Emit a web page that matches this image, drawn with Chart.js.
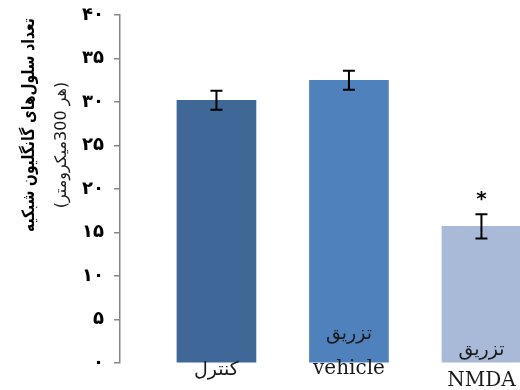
<!DOCTYPE html>
<html>
<head>
<meta charset="utf-8">
<script src="https://cdn.jsdelivr.net/npm/chart.js@4/dist/chart.umd.min.js"></script>
<style>
  html, body { margin: 0; padding: 0; background: #ffffff; overflow: hidden; }
  #wrap { width: 520px; height: 390px; position: relative; }
</style>
</head>
<body>
<div id="wrap"><canvas id="c" width="520" height="390"></canvas></div>
<script>
// Retinal ganglion cell counts per group (mean ± error)
const categories = [['کنترل'], ['تزریق', 'vehicle'], ['تزریق', 'NMDA']];
const cellCounts = [30.2, 32.5, 15.7];
const cellErrors = [1.1, 1.1, 1.4];
const significant = [false, false, true];
const barColors = ['#3F6899', '#4F81BD', '#A9BAD9'];
const yTickValues = [0, 5, 10, 15, 20, 25, 30, 35, 40];
const yTickLabels = ['۰', '۵', '۱۰', '۱۵', '۲۰', '۲۵', '۳۰', '۳۵', '۴۰'];
const yTitle = 'تعداد سلول‌های گانگلیون شبکیه';
const ySubTitle = '(هر 300میکرومتر)';

// Error bars and the significance star
const errorBarPlugin = {
  id: 'errorBars',
  afterDatasetsDraw(chart) {
    const ctx = chart.ctx;
    const xs = chart.scales.x, ys = chart.scales.y;
    ctx.save();
    ctx.strokeStyle = '#000';
    ctx.lineWidth = 2;
    cellCounts.forEach((v, i) => {
      const x = xs.getPixelForValue(i);
      const top = ys.getPixelForValue(v + cellErrors[i]);
      const bot = ys.getPixelForValue(v - cellErrors[i]);
      ctx.beginPath();
      ctx.moveTo(x, top); ctx.lineTo(x, bot);
      ctx.moveTo(x - 6, top); ctx.lineTo(x + 6, top);
      ctx.moveTo(x - 6, bot); ctx.lineTo(x + 6, bot);
      ctx.stroke();
      if (significant[i]) {
        ctx.fillStyle = '#000';
        ctx.font = 'bold 20px "DejaVu Sans"';
        ctx.textAlign = 'center';
        ctx.textBaseline = 'middle';
        ctx.fillText('*', x, top - 14);
      }
    });
    ctx.restore();
  }
};

// Category labels: the first line sits inside the bar, the last one just below it
const labelPlugin = {
  id: 'catLabels',
  afterDatasetsDraw(chart) {
    const ctx = chart.ctx;
    const xs = chart.scales.x;
    const base = chart.chartArea.bottom;
    const offsets = [[7], [-29, 6], [-13, 18]];
    ctx.save();
    ctx.fillStyle = '#1a1a1a';
    ctx.textAlign = 'center';
    ctx.textBaseline = 'middle';
    categories.forEach((lines, i) => {
      const x = xs.getPixelForValue(i);
      lines.forEach((t, j) => {
        const latin = /^[A-Za-z]/.test(t);
        ctx.font = latin ? '20px "DejaVu Serif"' : '19px "DejaVu Sans"';
        ctx.direction = latin ? 'ltr' : 'rtl';
        ctx.fillText(t, x, base + offsets[i][j]);
      });
    });
    ctx.restore();
  }
};

// Rotated y-axis title lines, squeezed along the reading direction to a set length
function drawRotated(ctx, text, font, color, cx, cy, length) {
  ctx.save();
  ctx.fillStyle = color;
  ctx.font = font;
  ctx.textAlign = 'center';
  ctx.textBaseline = 'middle';
  ctx.direction = 'rtl';
  ctx.translate(cx, cy);
  ctx.rotate(-Math.PI / 2);
  const w = ctx.measureText(text).width;
  ctx.scale(Math.min(1, length / w), 1);
  ctx.fillText(text, 0, 0);
  ctx.restore();
}

const titlePlugin = {
  id: 'yTitles',
  afterDraw(chart) {
    const ctx = chart.ctx;
    drawRotated(ctx, yTitle, 'bold 17px "DejaVu Sans"', '#000', 30, 125, 214);
    drawRotated(ctx, ySubTitle, '16px "DejaVu Sans"', '#1a1a1a', 62, 145, 140);
  }
};

new Chart(document.getElementById('c'), {
  type: 'bar',
  data: {
    datasets: [{
      data: cellCounts.map((v, i) => ({ x: i, y: v })),
      backgroundColor: barColors,
      borderWidth: 0,
      barThickness: 79
    }]
  },
  options: {
    responsive: false,
    animation: false,
    layout: { padding: { top: 15, bottom: 27, left: 0, right: 0 } },
    plugins: { legend: { display: false }, tooltip: { enabled: false } },
    scales: {
      x: {
        type: 'linear',
        display: false,
        offset: false,
        min: -0.728,
        max: 2.291
      },
      y: {
        min: 0,
        max: 40,
        afterFit(scale) {
          scale.width = 120;
          scale.paddingTop = 0;
          scale.paddingBottom = 0;
        },
        afterBuildTicks(scale) { scale.ticks = yTickValues.map(v => ({ value: v })); },
        ticks: {
          padding: 10,
          color: '#000',
          font: { family: 'DejaVu Sans', weight: 'bold', size: 18 },
          callback: (v) => yTickLabels[yTickValues.indexOf(v)]
        },
        grid: { display: true, drawOnChartArea: false, drawTicks: true, tickLength: 6, color: '#868686', lineWidth: 1.5 },
        border: { display: true, color: '#868686', width: 1.5 }
      }
    }
  },
  plugins: [errorBarPlugin, labelPlugin, titlePlugin]
});
</script>
</body>
</html>
